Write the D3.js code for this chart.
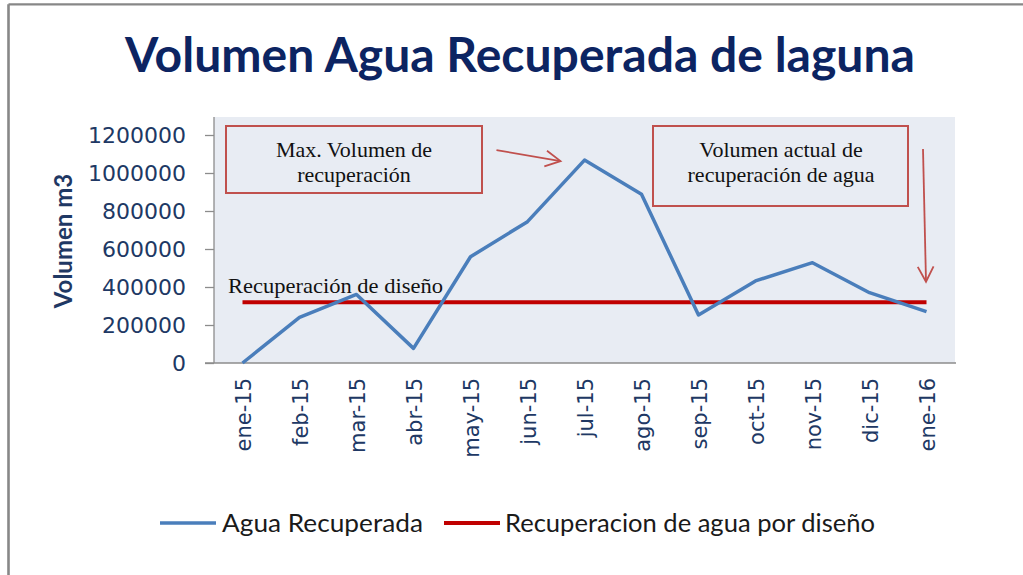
<!DOCTYPE html>
<html>
<head>
<meta charset="utf-8">
<script src="https://cdn.jsdelivr.net/npm/d3@7"></script>
<style>
  html, body { margin: 0; padding: 0; background: #ffffff; }
  svg { display: block; }
</style>
</head>
<body>
<svg id="chart" width="1023" height="575"></svg>
<script>
// ---- data ----
const months = ["ene-15","feb-15","mar-15","abr-15","may-15","jun-15","jul-15","ago-15","sep-15","oct-15","nov-15","dic-15","ene-16"];
const aguaRecuperada = [0, 240000, 361000, 77000, 559000, 744000, 1068000, 888000, 253000, 432000, 528000, 370000, 270000];
const recuperacionDiseno = [320000, 320000, 320000, 320000, 320000, 320000, 320000, 320000, 320000, 320000, 320000, 320000, 320000];
const yTicks = [0, 200000, 400000, 600000, 800000, 1000000, 1200000];
const titleText = "Volumen Agua Recuperada de laguna";
const yAxisTitle = "Volumen m3";
const seriesNames = ["Agua Recuperada", "Recuperacion de agua por diseño"];
const noteMax = ["Max. Volumen de", "recuperación"];
const noteActual = ["Volumen actual de", "recuperación de agua"];
const noteDesign = "Recuperación de diseño";

// ---- layout ----
const svg = d3.select("#chart");
const plot = { left: 214, right: 955, top: 117, bottom: 363 };
const BLUE = "#4a7ebb", RED = "#c00000", NOTE = "#c0504d";
const AXIS_TXT = "#203864";

const x = d3.scalePoint().domain(months).range([plot.left, plot.right]).padding(0.5);
const y = d3.scaleLinear().domain([0, 1200000]).range([plot.bottom, 135]);

// outer frame
svg.append("line").attr("x1", 8.5).attr("x2", 1023).attr("y1", 4.3).attr("y2", 4.3)
  .attr("stroke", "#878787").attr("stroke-width", 2.2);
svg.append("line").attr("x1", 8.5).attr("x2", 8.5).attr("y1", 4.3).attr("y2", 575)
  .attr("stroke", "#878787").attr("stroke-width", 2.6);

// title
svg.append("text").attr("x", 520).attr("y", 72)
  .attr("text-anchor", "middle")
  .attr("font-family", "Lato, 'Open Sans', sans-serif").attr("font-weight", 700)
  .attr("font-size", 47).attr("fill", "#0c2462")
  .attr("textLength", 790).attr("lengthAdjust", "spacingAndGlyphs")
  .text(titleText);

// plot background
svg.append("rect").attr("x", plot.left).attr("y", plot.top)
  .attr("width", plot.right - plot.left).attr("height", plot.bottom - plot.top)
  .attr("fill", "#e8ecf3");

// y axis
const yAxis = svg.append("g").attr("transform", `translate(${plot.left},0)`)
  .call(d3.axisLeft(y).tickValues(yTicks).tickFormat(d3.format("d")).tickSize(9).tickPadding(19));
yAxis.select(".domain").attr("d", `M0,${plot.top}V${plot.bottom}`).attr("stroke", "#8c8c8c").attr("stroke-width", 1.3);
yAxis.selectAll(".tick line").attr("stroke", "#8c8c8c").attr("stroke-width", 1.3);
yAxis.selectAll(".tick text").attr("font-family", "'DejaVu Sans', Verdana, sans-serif")
  .attr("font-size", 22).attr("fill", AXIS_TXT);

// x axis line
svg.append("line").attr("x1", plot.left - 9).attr("x2", plot.right + 1)
  .attr("y1", plot.bottom).attr("y2", plot.bottom)
  .attr("stroke", "#8c8c8c").attr("stroke-width", 1.5);

// x labels
svg.append("g").selectAll("text").data(months).join("text")
  .attr("transform", d => `translate(${x(d)},${plot.bottom + 15}) rotate(-90)`)
  .attr("text-anchor", "end").attr("dy", "0.42em")
  .attr("font-family", "'DejaVu Sans', Verdana, sans-serif")
  .attr("font-size", 21).attr("fill", AXIS_TXT)
  .text(d => d);

// y axis title
svg.append("text")
  .attr("transform", `translate(72,241) rotate(-90)`)
  .attr("text-anchor", "middle")
  .attr("font-family", "Lato, 'Open Sans', sans-serif").attr("font-weight", 700)
  .attr("font-size", 24).attr("fill", "#1f3864")
  .text(yAxisTitle);

// series lines
const line = d3.line().x((d, i) => x(months[i])).y(d => y(d));
svg.append("path").datum(recuperacionDiseno).attr("d", line)
  .attr("fill", "none").attr("stroke", RED).attr("stroke-width", 4);
svg.append("path").datum(aguaRecuperada).attr("d", line)
  .attr("fill", "none").attr("stroke", BLUE).attr("stroke-width", 3.5)
  .attr("stroke-linejoin", "round");

// annotation helpers
const serif = "'Liberation Serif', 'Times New Roman', serif";
function noteBox(x0, y0, x1, y1, lines, cx, base) {
  svg.append("rect").attr("x", x0).attr("y", y0).attr("width", x1 - x0).attr("height", y1 - y0)
    .attr("fill", "none").attr("stroke", NOTE).attr("stroke-width", 2);
  lines.forEach((t, i) => {
    svg.append("text").attr("x", cx).attr("y", base + i * 25)
      .attr("text-anchor", "middle").attr("font-family", serif)
      .attr("font-size", 22).attr("fill", "#111").text(t);
  });
}
function arrow(x0, y0, x1, y1) {
  svg.append("line").attr("x1", x0).attr("y1", y0).attr("x2", x1).attr("y2", y1)
    .attr("stroke", NOTE).attr("stroke-width", 1.8);
  const ang = Math.atan2(y1 - y0, x1 - x0), L = 17, a = Math.PI / 6.5;
  const p1 = [x1 - L * Math.cos(ang - a), y1 - L * Math.sin(ang - a)];
  const p2 = [x1 - L * Math.cos(ang + a), y1 - L * Math.sin(ang + a)];
  svg.append("path").attr("d", `M${p1[0]},${p1[1]}L${x1},${y1}L${p2[0]},${p2[1]}`)
    .attr("fill", "none").attr("stroke", NOTE).attr("stroke-width", 1.8);
}

noteBox(226, 126, 482, 193, noteMax, 354, 157);
const iMax = aguaRecuperada.indexOf(d3.max(aguaRecuperada));
const px = x(months[iMax]), py = y(aguaRecuperada[iMax]);
arrow(px - 88, py - 10, px - 24, py + 1);

noteBox(653, 126, 908, 206, noteActual, 781, 157);
const iLast = aguaRecuperada.length - 1;
const lx = x(months[iLast]), ly = y(aguaRecuperada[iLast]);
arrow(lx - 3.5, 149, lx - 0.5, ly - 30);

svg.append("text").attr("x", 228).attr("y", 293)
  .attr("font-family", serif).attr("font-size", 22).attr("fill", "#111")
  .attr("textLength", 215).attr("lengthAdjust", "spacingAndGlyphs")
  .text(noteDesign);

// legend
const legend = svg.append("g");
const legItems = [
  { name: seriesNames[0], color: BLUE, x0: 160, tx: 222, w: 3.5, len: 201 },
  { name: seriesNames[1], color: RED, x0: 444, tx: 505, w: 4, len: 370 }
];
legItems.forEach(it => {
  legend.append("line").attr("x1", it.x0).attr("x2", it.x0 + 56).attr("y1", 523).attr("y2", 523)
    .attr("stroke", it.color).attr("stroke-width", it.w);
  legend.append("text").attr("x", it.tx).attr("y", 532)
    .attr("font-family", "Lato, 'Open Sans', sans-serif").attr("font-size", 25)
    .attr("fill", "#1a1a1a")
    .attr("textLength", it.len).attr("lengthAdjust", "spacingAndGlyphs")
    .text(it.name);
});
</script>
</body>
</html>
